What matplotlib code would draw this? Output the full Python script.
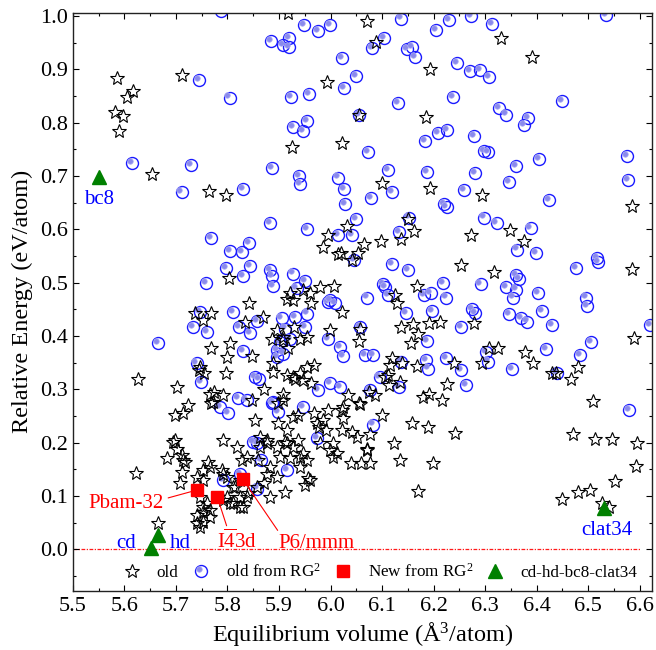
import numpy as np
import matplotlib
matplotlib.use("Agg")
import matplotlib.pyplot as plt
from matplotlib.ticker import MultipleLocator, FormatStrFormatter
from matplotlib.legend_handler import HandlerTuple, HandlerLine2D
from matplotlib.transforms import ScaledTranslation

plt.rcParams['font.family'] = ['Liberation Serif', 'DejaVu Serif']
plt.rcParams['mathtext.fontset'] = 'custom'
plt.rcParams['mathtext.rm'] = 'Liberation Serif'
plt.rcParams['mathtext.it'] = 'Liberation Serif:italic'

# old structures (volume A^3/atom, relative energy eV/atom)
old_points = [
    (5.586, 0.883), (5.616, 0.859), (5.606, 0.848), (5.582, 0.820), (5.598, 0.812),
    (5.590, 0.784), (5.711, 0.889), (5.654, 0.703), (5.765, 0.672), (5.797, 0.664),
    (5.925, 0.754), (5.993, 0.876), (5.985, 0.567), (5.996, 0.589), (5.803, 0.509),
    (5.841, 0.461), (5.737, 0.443), (5.768, 0.443), (5.834, 0.427), (5.868, 0.436),
    (5.921, 0.480), (5.927, 0.467), (5.947, 0.486), (5.960, 0.480), (5.980, 0.491),
    (5.963, 0.461), (5.918, 1.005),
    (6.070, 0.991), (6.089, 0.951), (6.330, 0.958), (6.391, 0.923), (6.193, 0.900),
    (6.055, 0.814), (6.186, 0.811), (6.022, 0.762), (6.099, 0.686), (6.193, 0.678),
    (6.294, 0.664), (6.584, 0.644), (6.151, 0.620), (6.162, 0.597), (6.137, 0.581),
    (6.031, 0.606), (6.272, 0.589), (6.348, 0.598), (6.375, 0.578), (6.064, 0.572),
    (6.098, 0.578), (6.020, 0.555), (6.041, 0.543), (6.054, 0.555), (6.253, 0.533),
    (6.317, 0.520), (6.584, 0.525), (6.007, 0.493), (6.168, 0.494), (6.125, 0.477),
    (6.128, 0.461), (6.022, 0.445), (6.136, 0.417), (6.160, 0.422), (6.191, 0.425),
    (6.212, 0.427), (6.279, 0.424), (6.057, 0.414), (6.055, 0.391), (6.156, 0.386),
    (6.170, 0.403), (6.589, 0.397), (6.308, 0.377), (6.325, 0.377), (6.293, 0.350),
    (6.378, 0.370), (6.393, 0.349), (6.239, 0.350), (6.120, 0.358), (6.115, 0.345),
    (6.138, 0.349), (6.167, 0.343), (6.112, 0.327), (6.135, 0.314), (6.114, 0.308),
    (6.106, 0.323), (6.429, 0.331), (6.438, 0.331), (6.480, 0.342), (6.466, 0.320),
    (6.075, 0.295), (6.086, 0.289), (6.034, 0.289), (6.055, 0.274), (6.179, 0.286),
    (6.191, 0.292), (6.225, 0.310), (6.217, 0.280), (6.509, 0.278), (6.023, 0.261),
    (6.025, 0.247), (6.100, 0.252), (6.159, 0.236), (6.190, 0.229), (6.241, 0.219),
    (6.471, 0.216), (6.513, 0.206), (6.547, 0.206), (6.594, 0.199), (6.592, 0.156),
    (6.551, 0.128), (6.504, 0.112), (6.480, 0.107), (6.449, 0.094), (6.526, 0.086),
    (6.540, 0.080), (6.124, 0.200), (6.135, 0.167), (6.199, 0.161), (6.170, 0.109),
    (6.022, 0.224), (6.041, 0.220), (6.051, 0.211), (6.077, 0.217), (6.070, 0.189),
    (6.005, 0.199), (6.012, 0.180), (6.039, 0.161), (6.060, 0.161), (6.076, 0.161),
    (6.057, 0.272), (6.025, 0.267), (6.071, 0.186), (5.999, 0.411),
    (6.015, 0.553), (5.915, 0.470), (5.752, 0.430), (5.896, 0.411), (5.886, 0.395),
    (5.908, 0.398), (5.929, 0.417), (5.918, 0.377), (5.954, 0.398), (5.768, 0.377),
    (5.804, 0.386), (5.799, 0.361), (5.848, 0.363), (5.745, 0.336), (5.797, 0.331),
    (5.889, 0.349), (5.889, 0.333), (5.915, 0.327), (5.931, 0.320), (5.954, 0.342),
    (5.968, 0.345), (5.947, 0.317), (5.963, 0.311), (5.703, 0.305), (5.773, 0.295),
    (5.792, 0.289), (5.768, 0.274), (5.724, 0.270), (5.847, 0.280), (5.871, 0.300),
    (5.899, 0.274), (5.908, 0.280),
    (5.627, 0.320), (5.623, 0.144), (5.665, 0.049), (5.698, 0.252), (5.714, 0.255),
    (5.747, 0.341), (5.755, 0.330), (5.766, 0.292), (5.771, 0.277), (5.791, 0.205),
    (5.854, 0.242), (5.698, 0.205), (5.702, 0.189), (5.682, 0.171), (5.711, 0.177),
    (5.718, 0.164), (5.711, 0.145), (5.708, 0.124), (5.740, 0.136), (5.763, 0.164),
    (5.766, 0.155), (5.753, 0.149), (5.789, 0.149), (5.799, 0.136), (5.824, 0.130),
    (5.811, 0.117), (5.837, 0.174), (5.860, 0.167), (5.863, 0.192), (5.876, 0.205),
    (5.896, 0.192), (5.902, 0.174), (5.921, 0.171), (5.941, 0.174), (5.915, 0.199),
    (5.937, 0.205), (5.954, 0.167), (5.957, 0.133), (5.950, 0.120), (5.883, 0.155),
    (5.876, 0.142), (5.912, 0.108), (5.883, 0.099), (5.857, 0.117), (5.747, 0.099),
    (5.760, 0.086), (5.753, 0.070), (5.766, 0.061), (5.740, 0.049), (5.747, 0.042),
    (5.799, 0.099), (5.811, 0.086), (5.824, 0.099), (5.840, 0.105), (5.831, 0.080),
    (5.967, 0.255), (5.973, 0.236), (5.986, 0.242), (5.996, 0.261), (5.980, 0.199),
    (5.999, 0.186), (5.928, 0.248), (5.915, 0.224), (5.908, 0.292), (5.928, 0.323),
    (5.941, 0.330), (5.908, 0.392), (5.941, 0.395),
    (5.899, 0.236), (5.937, 0.252), (5.978, 0.230), (5.992, 0.224), (5.695, 0.202),
    (5.714, 0.167), (5.818, 0.192), (5.828, 0.167), (5.863, 0.211), (5.876, 0.199),
    (5.912, 0.202), (5.928, 0.192), (5.947, 0.180), (5.941, 0.155), (5.960, 0.130),
    (6.005, 0.174), (5.896, 0.136), (5.870, 0.124), (5.815, 0.117), (5.792, 0.142),
    (5.753, 0.130), (5.753, 0.080), (5.740, 0.064), (5.753, 0.052), (5.805, 0.086),
    (5.824, 0.080), (5.837, 0.099), (5.766, 0.074), (5.792, 0.092),
]

# old structures found again with RG^2
rg_points = [
    (5.615, 0.725), (5.729, 0.720), (5.711, 0.670), (5.744, 0.879), (5.804, 0.847),
    (5.831, 0.675), (5.885, 0.953), (5.908, 0.945), (5.919, 0.958), (5.920, 0.942),
    (5.948, 0.983), (5.976, 0.972), (5.999, 0.983), (5.787, 1.010), (5.923, 0.848),
    (5.959, 0.853), (5.927, 0.791), (5.954, 0.803), (5.947, 0.784), (5.887, 0.714),
    (5.939, 0.700), (5.941, 0.684), (5.883, 0.611), (5.954, 0.600), (5.768, 0.583),
    (5.805, 0.560), (5.828, 0.557), (5.842, 0.575), (5.844, 0.531), (5.797, 0.527),
    (5.831, 0.512), (5.758, 0.500), (5.883, 0.524), (5.887, 0.513), (5.889, 0.493),
    (5.928, 0.517), (5.950, 0.503), (5.811, 0.445), (5.857, 0.428), (5.905, 0.433),
    (5.931, 0.436), (5.954, 0.442), (5.996, 0.464), (5.747, 0.445),
    (6.137, 0.995), (6.230, 0.992), (6.272, 0.999), (6.314, 0.984), (6.204, 0.973),
    (6.534, 1.001), (6.104, 0.958), (6.080, 0.939), (6.148, 0.937), (6.159, 0.941),
    (6.164, 0.923), (6.022, 0.921), (6.049, 0.887), (6.026, 0.864), (6.245, 0.911),
    (6.270, 0.897), (6.290, 0.898), (6.308, 0.885), (6.237, 0.848), (6.131, 0.836),
    (6.449, 0.841), (6.327, 0.828), (6.340, 0.815), (6.383, 0.808), (6.375, 0.795),
    (6.055, 0.814), (6.209, 0.780), (6.226, 0.786), (6.184, 0.765), (6.279, 0.775),
    (6.298, 0.747), (6.306, 0.745), (6.073, 0.744), (6.575, 0.738), (6.405, 0.731),
    (6.359, 0.719), (6.111, 0.711), (6.188, 0.708), (6.280, 0.705), (6.577, 0.693),
    (6.015, 0.697), (6.347, 0.689), (6.027, 0.675), (6.120, 0.669), (6.078, 0.659),
    (6.259, 0.673), (6.028, 0.647), (6.424, 0.655), (6.221, 0.647), (6.225, 0.641),
    (6.049, 0.620), (6.298, 0.622), (6.322, 0.612), (6.388, 0.603), (6.152, 0.622),
    (6.015, 0.590), (6.042, 0.590), (6.133, 0.595), (6.362, 0.562), (6.398, 0.556),
    (6.046, 0.543), (6.120, 0.535), (6.150, 0.523), (6.477, 0.528), (6.517, 0.546),
    (6.519, 0.539), (6.219, 0.500), (6.291, 0.497), (6.102, 0.498), (6.106, 0.492),
    (6.112, 0.477), (6.181, 0.477), (6.194, 0.480), (6.224, 0.472), (6.070, 0.472),
    (6.340, 0.491), (6.360, 0.514), (6.366, 0.506), (6.360, 0.487), (6.354, 0.472),
    (6.403, 0.481), (6.495, 0.472), (6.497, 0.456), (6.009, 0.462), (6.146, 0.443),
    (6.197, 0.447), (6.275, 0.450), (6.280, 0.443), (6.346, 0.441), (6.369, 0.433),
    (6.381, 0.427), (6.411, 0.447), (6.429, 0.420), (6.619, 0.420), (6.057, 0.417),
    (6.253, 0.416),
    (6.018, 0.380), (6.025, 0.362), (6.067, 0.364), (6.083, 0.365), (6.188, 0.390),
    (6.186, 0.355), (6.190, 0.339), (6.136, 0.352), (6.224, 0.358), (6.253, 0.336),
    (6.263, 0.308), (6.306, 0.352), (6.302, 0.370), (6.353, 0.338), (6.418, 0.375),
    (6.439, 0.330), (6.484, 0.364), (6.506, 0.389), (6.018, 0.305), (6.095, 0.323),
    (6.133, 0.304), (6.076, 0.299), (6.083, 0.234), (6.579, 0.262), (5.999, 0.311),
    (5.934, 0.489), (5.999, 0.467), (5.734, 0.416), (5.761, 0.408), (5.823, 0.416),
    (5.843, 0.405), (5.950, 0.417), (5.912, 0.414), (5.921, 0.395), (5.902, 0.389),
    (5.908, 0.367), (5.996, 0.395), (5.830, 0.372), (5.740, 0.349), (5.748, 0.314),
    (5.854, 0.323), (5.862, 0.320), (5.896, 0.361), (5.976, 0.299), (5.821, 0.283),
    (5.837, 0.280), (5.886, 0.274), (5.947, 0.267), (5.786, 0.267),
    (5.666, 0.387), (5.802, 0.255), (5.889, 0.277), (5.899, 0.258), (5.896, 0.373),
    (5.857, 0.199), (5.866, 0.167), (5.824, 0.142), (5.915, 0.149),
    (5.850, 0.202), (5.973, 0.208), (5.792, 0.130), (5.857, 0.114),
]

# new structures from RG^2
new_vol = [5.740, 5.780, 5.830]
new_energy = [0.111, 0.099, 0.131]
new_names = ['Pbam-32', r'I$\overline{4}$3d', 'P6/mmm']

# reference phases: bc8, cd, hd, clat34
ref_vol = [5.550, 5.651, 5.666, 6.530]
ref_energy = [0.698, 0.002, 0.027, 0.077]

old_vol, old_energy = zip(*old_points)
rg_vol, rg_energy = zip(*rg_points)

# shift (inches) of the light dot inside each RG^2 circle
DOT_DX = 1.5 / 72
DOT_DY = 1.5 / 72


class HandlerShifted(HandlerLine2D):
    # same as HandlerLine2D, but keeps the dot offset inside the ring
    def create_artists(self, legend, orig_handle, xdescent, ydescent,
                       width, height, fontsize, trans):
        arts = super().create_artists(legend, orig_handle, xdescent, ydescent,
                                      width, height, fontsize, trans)
        off = ScaledTranslation(-DOT_DX, DOT_DY, legend.figure.dpi_scale_trans)
        for a in arts:
            a.set_transform(trans + off)
        return arts


fig = plt.figure(figsize=(6.56, 6.5), dpi=100)
ax = fig.add_axes([0.111, 0.0908, 0.8824, 0.8897])

ax.hlines(0.0, 5.5, 6.6, colors='#ff1a1a', linestyles=(0, (3, 1.2, 1, 1.2)),
          linewidth=0.9, zorder=1)

ring, = ax.plot(rg_vol, rg_energy, linestyle='none', marker='o', markersize=8.6,
                markerfacecolor='none', markeredgecolor='#1a1aff', markeredgewidth=1.0, zorder=2)
dot_shift = ax.transData + ScaledTranslation(-DOT_DX, DOT_DY, fig.dpi_scale_trans)
hl, = ax.plot(rg_vol, rg_energy, linestyle='none', marker='o', markersize=4.0,
              markerfacecolor='#8a8aec', markeredgecolor='#b0b0f4', markeredgewidth=0.5,
              transform=dot_shift, zorder=2.5)
star, = ax.plot(old_vol, old_energy, linestyle='none', marker='*', markersize=10.2,
                markerfacecolor='none', markeredgecolor='black', markeredgewidth=0.8, zorder=3)
sq, = ax.plot(new_vol, new_energy, linestyle='none', marker='s', markersize=8,
              color='red', zorder=5)
tri, = ax.plot(ref_vol, ref_energy, linestyle='none', marker='^', markersize=9.5,
               color='#008000', zorder=6)

lead = dict(arrowstyle='-', color='red', lw=0.8, shrinkA=1, shrinkB=4)
ax.annotate(new_names[0], xy=(new_vol[0], new_energy[0]), xytext=(5.604, 0.077),
            ha='center', va='baseline', color='red', fontsize=15,
            arrowprops=dict(lead, relpos=(1.0, 0.75)))
ax.annotate(new_names[1], xy=(new_vol[1], new_energy[1]), xytext=(5.818, 0.002),
            ha='center', va='baseline', color='red', fontsize=15,
            arrowprops=dict(lead, relpos=(0.28, 1.0)))
ax.annotate(new_names[2], xy=(new_vol[2], new_energy[2]), xytext=(5.972, 0.002),
            ha='center', va='baseline', color='red', fontsize=15,
            arrowprops=dict(lead, relpos=(0.03, 1.0)))

ax.text(5.603, 0.002, 'cd', color='blue', fontsize=15, ha='center', va='baseline')
ax.text(5.708, 0.002, 'hd', color='blue', fontsize=15, ha='center', va='baseline')
ax.text(5.550, 0.648, 'bc8', color='blue', fontsize=15, ha='center', va='baseline')
ax.text(6.536, 0.027, 'clat34', color='blue', fontsize=15, ha='center', va='baseline')

ax.set_xlim(5.5, 6.623)
ax.set_ylim(-0.078, 1.006)
ax.xaxis.set_major_locator(MultipleLocator(0.1))
ax.xaxis.set_minor_locator(MultipleLocator(0.05))
ax.yaxis.set_major_locator(MultipleLocator(0.1))
ax.yaxis.set_minor_locator(MultipleLocator(0.05))
ax.xaxis.set_major_formatter(FormatStrFormatter('%.1f'))
ax.yaxis.set_major_formatter(FormatStrFormatter('%.1f'))
ax.tick_params(which='both', direction='in', top=True, right=True, labelsize=16)
ax.tick_params(which='major', length=4, width=0.8)
ax.tick_params(which='minor', length=2.5, width=0.8)
ax.tick_params(axis='x', pad=4.5)
ax.tick_params(axis='y', pad=3.5)
for s in ax.spines.values():
    s.set_linewidth(1.0)
    s.set_color('#222222')

ax.set_xlabel(r'Equilibrium volume (Å$^3$/atom)', fontsize=17.5, labelpad=3)
ax.set_ylabel('Relative Energy (eV/atom)', fontsize=17.5, labelpad=5)

ax.legend([star, (ring, hl), sq, tri],
          ['old', r'old from RG$^2$', r'New from RG$^2$', 'cd-hd-bc8-clat34'],
          handler_map={tuple: HandlerTuple(ndivide=1), hl: HandlerShifted()},
          loc='center', bbox_to_anchor=(0.531, 0.033), ncol=4, frameon=False,
          fontsize=12.3, numpoints=1, handlelength=1.0, handletextpad=0.95,
          columnspacing=0.8, borderpad=0.2)

fig.savefig('out.png', dpi=100)
